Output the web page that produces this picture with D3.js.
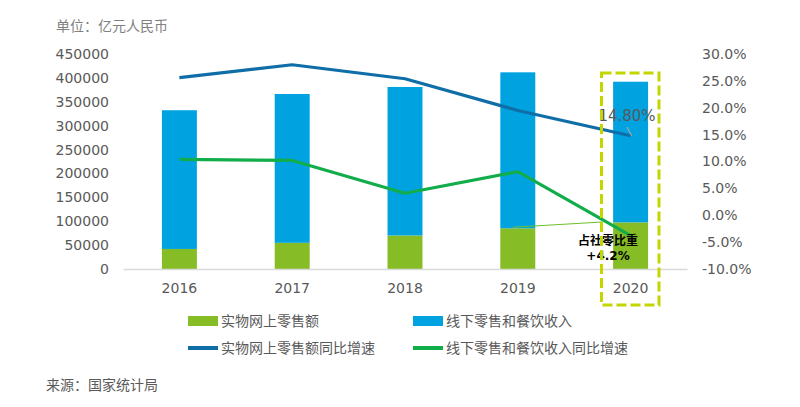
<!DOCTYPE html>
<html>
<head>
<meta charset="utf-8">
<script src="https://cdn.jsdelivr.net/npm/d3@7"></script>
<style>
	body { margin: 0; background: #fff; }
	svg { display: block; }
	text { font-family: "DejaVu Sans", Verdana, sans-serif; }
	.cn { font-family: "Noto Sans CJK SC", sans-serif; }
</style>
</head>
<body>
<svg id="chart" width="800" height="407"></svg>
<script>
var years = ['2016', '2017', '2018', '2019', '2020'];
var onlineSales = [41944, 54806, 70198, 85239, 97590];
var offlineSales = [290372, 311456, 310789, 326410, 294391];
var onlineGrowth = [25.6, 28.0, 25.4, 19.5, 14.8];
var offlineGrowth = [10.4, 10.2, 4.1, 8.1, -3.8];
var leftTicks = [0, 50000, 100000, 150000, 200000, 250000, 300000, 350000, 400000, 450000];
var rightTicks = [-10, -5, 0, 5, 10, 15, 20, 25, 30];
var seriesNames = ['实物网上零售额', '线下零售和餐饮收入', '实物网上零售额同比增速', '线下零售和餐饮收入同比增速'];

var CHART = {
	COLORS: ['#86bc25', '#00a3e0', '#0f6ea8', '#12ad4b'],

	init: function() {
		var svg = d3.select('#chart');
		var top = 54, bottom = 269, left = 123, right = 687;

		var x = d3.scaleBand().domain(years).range([left, right]).paddingInner(0.69).paddingOuter(0.345);
		var y = d3.scaleLinear().domain([0, 450000]).range([bottom, top]);
		var y2 = d3.scaleLinear().domain([-10, 30]).range([bottom, top]);

		var rows = years.map(function(d, i) {
			return { year: d, online: onlineSales[i], offline: offlineSales[i] };
		});
		var stack = d3.stack().keys(['online', 'offline'])(rows);

		// title
		svg.append('text').attr('class', 'cn')
			.attr('x', 56).attr('y', 31)
			.attr('font-size', 14).attr('fill', '#7f7f7f')
			.text('单位：亿元人民币');

		// bars
		svg.selectAll('g.layer')
			.data(stack)
			.enter()
			.append('g')
			.attr('class', 'layer')
			.attr('fill', function(d, i) { return CHART.COLORS[i]; })
			.selectAll('rect')
			.data(function(d) { return d; })
			.enter()
			.append('rect')
			.attr('x', function(d) { return x(d.data.year); })
			.attr('width', x.bandwidth())
			.attr('y', function(d) { return y(d[1]); })
			.attr('height', function(d) { return y(d[0]) - y(d[1]); });

		// axes
		var leftAxis = svg.append('g')
			.attr('transform', 'translate(' + (left - 14) + ',0)')
			.call(d3.axisLeft(y).tickValues(leftTicks).tickSize(0).tickPadding(0).tickFormat(d3.format('d')));
		var rightAxis = svg.append('g')
			.attr('transform', 'translate(' + (right + 15) + ',0)')
			.call(d3.axisRight(y2).tickValues(rightTicks).tickSize(0).tickPadding(0).tickFormat(function(d) { return d.toFixed(1) + '%'; }));
		var bottomAxis = svg.append('g')
			.attr('transform', 'translate(0,' + bottom + ')')
			.call(d3.axisBottom(x).tickSize(0).tickPadding(14));

		[leftAxis, rightAxis].forEach(function(a) { a.select('.domain').remove(); });
		bottomAxis.select('.domain').attr('stroke', '#d9d9d9').attr('stroke-width', 1.5);
		svg.selectAll('.tick text')
			.attr('font-size', 14)
			.attr('fill', '#595959')
			.attr('font-family', '"DejaVu Sans", Verdana, sans-serif');
		bottomAxis.selectAll('.tick text').attr('dy', '0.71em');

		// lines
		var cx = function(i) { return x(years[i]) + x.bandwidth() / 2; };
		var line = d3.line()
			.x(function(d, i) { return cx(i); })
			.y(function(d) { return y2(d); });

		// thin pointer line for the share annotation
		svg.append('line')
			.attr('x1', cx(3) - 5).attr('y1', y(onlineSales[3]) - 1)
			.attr('x2', 602).attr('y2', 222)
			.attr('stroke', '#6fbf2e').attr('stroke-width', 1.2);

		[onlineGrowth, offlineGrowth].forEach(function(s, k) {
			svg.append('path')
				.datum(s)
				.attr('fill', 'none')
				.attr('stroke', CHART.COLORS[k + 2])
				.attr('stroke-width', 3.2)
				.attr('stroke-linejoin', 'round')
				.attr('d', line);
		});

		// 2020 label
		svg.append('line')
			.attr('x1', 627).attr('y1', 127)
			.attr('x2', cx(4) + 1).attr('y2', y2(onlineGrowth[4]))
			.attr('stroke', '#a6a6a6').attr('stroke-width', 1.2);
		svg.append('text')
			.attr('x', 627).attr('y', 121)
			.attr('text-anchor', 'middle')
			.attr('font-size', 15).attr('fill', '#595959')
			.text(onlineGrowth[4].toFixed(2) + '%');

		svg.append('text').attr('class', 'cn')
			.attr('x', 608).attr('y', 245)
			.attr('text-anchor', 'middle')
			.attr('font-size', 12).attr('font-weight', 'bold').attr('fill', '#000')
			.text('占社零比重');
		svg.append('text')
			.attr('x', 608).attr('y', 260)
			.attr('text-anchor', 'middle')
			.attr('font-size', 12).attr('font-weight', 'bold').attr('fill', '#000')
			.text('+4.2%');

		// highlight box
		svg.append('rect')
			.attr('x', 601.5).attr('y', 73)
			.attr('width', 57.5).attr('height', 232)
			.attr('fill', 'none')
			.attr('stroke', '#c4d600')
			.attr('stroke-width', 3)
			.attr('stroke-dasharray', '10,4');

		// legend
		var legend = svg.selectAll('g.legend')
			.data(seriesNames)
			.enter()
			.append('g')
			.attr('class', 'legend')
			.attr('transform', function(d, i) {
				return 'translate(' + (i % 2 ? 413 : 188) + ',' + (i < 2 ? 321 : 348) + ')';
			});
		legend.append('rect')
			.attr('x', 0)
			.attr('y', function(d, i) { return i < 2 ? -5 : -2; })
			.attr('width', 30)
			.attr('height', function(d, i) { return i < 2 ? 10 : 4; })
			.attr('fill', function(d, i) { return CHART.COLORS[i]; });
		legend.append('text').attr('class', 'cn')
			.attr('x', 33).attr('y', 5)
			.attr('font-size', 14).attr('fill', '#595959')
			.text(function(d) { return d; });

		// source
		svg.append('text').attr('class', 'cn')
			.attr('x', 46).attr('y', 390)
			.attr('font-size', 14).attr('fill', '#595959')
			.text('来源：国家统计局');
	}
};

CHART.init();
</script>
</body>
</html>
